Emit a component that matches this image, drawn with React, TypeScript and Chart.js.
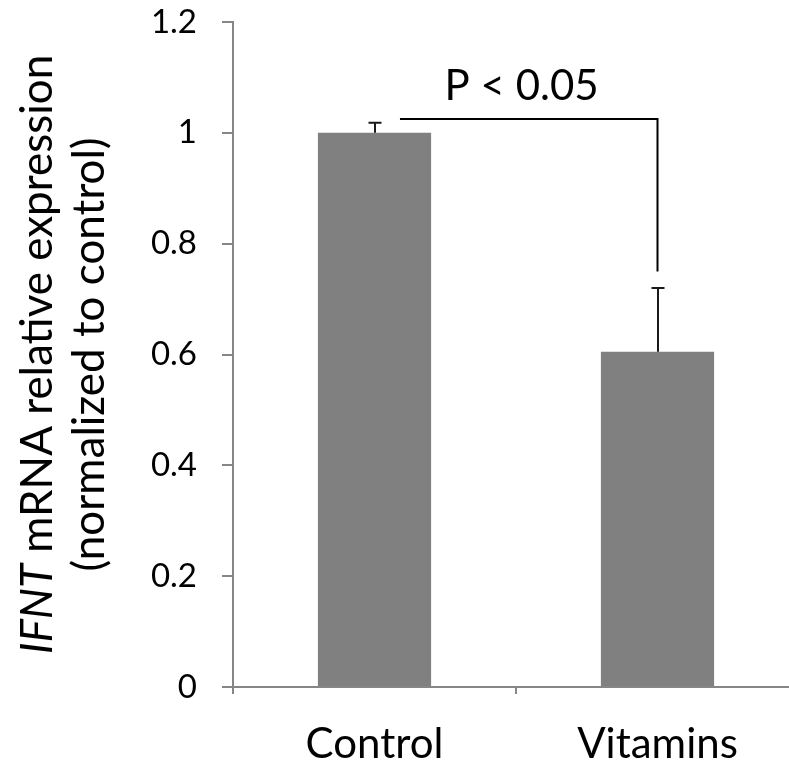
import React, { useEffect, useRef } from 'react';
import { Chart, registerables } from 'chart.js';

Chart.register(...registerables);

// ---- data ----
const CATEGORIES = ['Control', 'Vitamins'];
const VALUES = [1.0, 0.605];
const ERRORS = [0.018, 0.115];
const Y_TICKS = [0, 0.2, 0.4, 0.6, 0.8, 1, 1.2];
const Y_TICK_LABELS = ['0', '0.2', '0.4', '0.6', '0.8', '1', '1.2'];
const Y_TITLE_ITALIC = 'IFNT';
const Y_TITLE_LINE1 = ' mRNA relative expression';
const Y_TITLE_LINE2 = '(normalized to control)';
const SIG_LABEL = 'P < 0.05';
const SIG_FROM = 0.09; // category index position where bracket starts
const SIG_TO = 1; // category index where bracket drops
const SIG_TOP = 1.025; // y value of bracket top
const SIG_DROP = 0.75; // y value of bracket bottom end
const SIG_LABEL_X = 0.52;
const SIG_LABEL_Y = 1.06;

const FAMILY = "Lato, 'Open Sans', sans-serif";
const AXIS_COLOR = '#868686';

const errorBarPlugin = {
  id: 'errorBars',
  afterDatasetsDraw(chart: any) {
    const ctx = chart.ctx;
    const meta = chart.getDatasetMeta(0);
    const y = chart.scales.y;
    ctx.save();
    ctx.strokeStyle = '#1a1a1a';
    ctx.lineWidth = 2;
    meta.data.forEach((bar: any, i: number) => {
      const x = Math.round(bar.x);
      const yTop = y.getPixelForValue(VALUES[i] + ERRORS[i]);
      const yBar = y.getPixelForValue(VALUES[i]);
      ctx.beginPath();
      ctx.moveTo(x, yBar);
      ctx.lineTo(x, yTop);
      ctx.moveTo(x - 6.5, yTop);
      ctx.lineTo(x + 6.5, yTop);
      ctx.stroke();
    });
    ctx.restore();
  },
};

const sigPlugin = {
  id: 'sigBracket',
  afterDraw(chart: any) {
    const ctx = chart.ctx;
    const xs = chart.scales.x;
    const ys = chart.scales.y;
    const x1 = xs.getPixelForValue(SIG_FROM);
    const x2 = xs.getPixelForValue(SIG_TO);
    const yT = ys.getPixelForValue(SIG_TOP);
    const yB = ys.getPixelForValue(SIG_DROP);
    ctx.save();
    ctx.strokeStyle = '#000';
    ctx.lineWidth = 2;
    ctx.beginPath();
    ctx.moveTo(x1, yT);
    ctx.lineTo(x2, yT);
    ctx.lineTo(x2, yB);
    ctx.stroke();
    ctx.fillStyle = '#000';
    ctx.font = `400 42px ${FAMILY}`;
    ctx.textAlign = 'center';
    ctx.textBaseline = 'alphabetic';
    ctx.fillText(SIG_LABEL, xs.getPixelForValue(SIG_LABEL_X), ys.getPixelForValue(SIG_LABEL_Y));
    ctx.restore();
  },
};

const yTitlePlugin = {
  id: 'yTitle',
  afterDraw(chart: any) {
    const ctx = chart.ctx;
    const area = chart.chartArea;
    const cy = (area.top + area.bottom) / 2;
    const size = 44;
    const italic = `italic 400 ${size}px ${FAMILY}`;
    const normal = `400 ${size}px ${FAMILY}`;
    ctx.save();
    ctx.fillStyle = '#000';
    ctx.textBaseline = 'alphabetic';
    ctx.translate(52, cy);
    ctx.rotate(-Math.PI / 2);
    ctx.font = italic;
    const w1 = ctx.measureText(Y_TITLE_ITALIC).width;
    ctx.font = normal;
    const w2 = ctx.measureText(Y_TITLE_LINE1).width;
    const start = -(w1 + w2) / 2;
    ctx.textAlign = 'left';
    ctx.font = italic;
    ctx.fillText(Y_TITLE_ITALIC, start, 0);
    ctx.font = normal;
    ctx.fillText(Y_TITLE_LINE1, start + w1, 0);
    ctx.restore();

    ctx.save();
    ctx.fillStyle = '#000';
    ctx.textBaseline = 'alphabetic';
    ctx.translate(104, cy);
    ctx.rotate(-Math.PI / 2);
    ctx.font = normal;
    ctx.textAlign = 'center';
    ctx.fillText(Y_TITLE_LINE2, 0, 0);
    ctx.restore();
  },
};

export default function App() {
  const ref = useRef<HTMLCanvasElement>(null);

  useEffect(() => {
    const canvas = ref.current;
    if (!canvas) return;
    const chart = new Chart(canvas, {
      type: 'bar',
      data: {
        labels: CATEGORIES,
        datasets: [
          {
            data: VALUES,
            backgroundColor: '#808080',
            borderWidth: 0,
            barPercentage: 0.4,
            categoryPercentage: 1,
          },
        ],
      },
      options: {
        responsive: false,
        animation: false,
        devicePixelRatio: 1,
        layout: { padding: { top: 0, right: 31, bottom: 0, left: 0 } },
        plugins: {
          legend: { display: false },
          tooltip: { enabled: false },
          title: { display: false },
        },
        scales: {
          x: {
            ticks: { font: { family: FAMILY, size: 42 }, color: '#000', padding: 25 },
            grid: {
              drawOnChartArea: false,
              drawTicks: true,
              tickLength: 7,
              color: AXIS_COLOR,
              lineWidth: 2,
              offset: true,
            },
            border: { color: AXIS_COLOR, width: 2 },
            afterFit: (s: any) => {
              s.height = 79;
            },
          },
          y: {
            min: 0,
            max: 1.2,
            afterBuildTicks: (s: any) => {
              s.ticks = Y_TICKS.map((v) => ({ value: v }));
            },
            ticks: {
              font: { family: FAMILY, size: 33 },
              color: '#000',
              padding: 25,
              callback: (_v: any, i: number) => Y_TICK_LABELS[i],
            },
            grid: {
              drawOnChartArea: false,
              drawTicks: true,
              tickLength: 11,
              color: AXIS_COLOR,
              lineWidth: 2,
            },
            border: { color: AXIS_COLOR, width: 2 },
            afterFit: (s: any) => {
              s.width = 233;
              s.paddingTop = 22;
              s.paddingBottom = 0;
            },
          },
        },
      },
      plugins: [errorBarPlugin, sigPlugin, yTitlePlugin],
    });
    return () => chart.destroy();
  }, []);

  return (
    <div
      style={{
        position: 'fixed',
        left: 0,
        top: 0,
        width: 789,
        height: 766,
        overflow: 'hidden',
        background: '#fff',
      }}
    >
      <canvas ref={ref} width={830} height={766} style={{ display: 'block', width: 830, height: 766 }} />
    </div>
  );
}
